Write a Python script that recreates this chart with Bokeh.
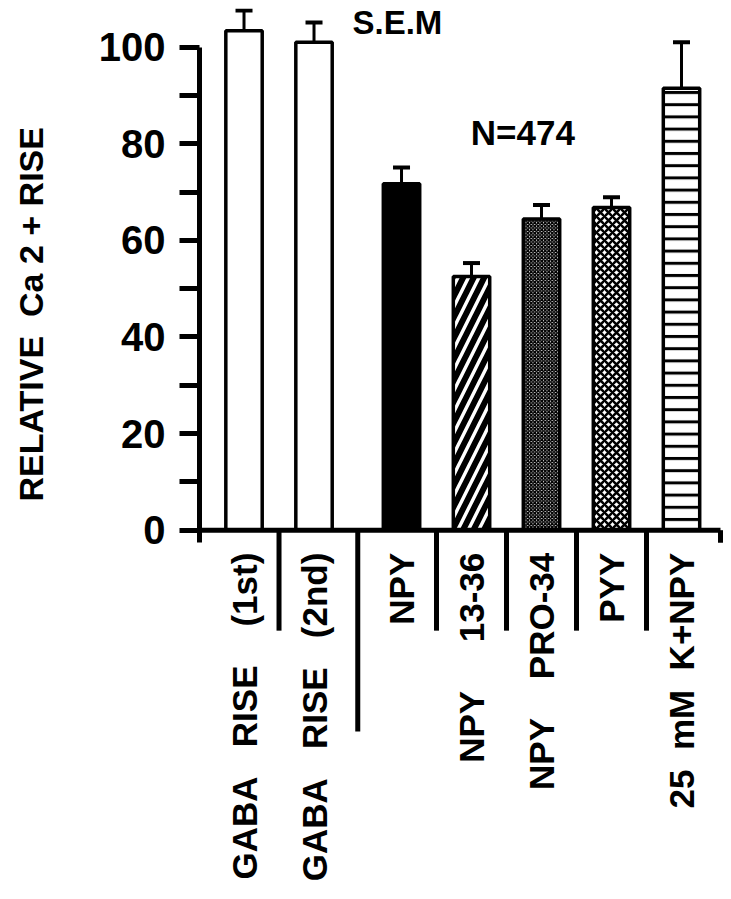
import math
import numpy as np
from bokeh.plotting import figure
from bokeh.layouts import row
from bokeh.models import Range1d, FixedTicker, ColumnDataSource, Whisker, TeeHead, Label
from bokeh.core.properties import value
from bokeh.embed import file_html
from bokeh.resources import INLINE

NB = "\u00a0"

# ---- data ----
labels = ["GABA" + NB * 3 + "RISE" + NB * 4 + "(1st)",
          "GABA" + NB * 3 + "RISE" + NB * 3 + "(2nd)",
          "NPY",
          "NPY" + NB * 5 + "13-36",
          "NPY" + NB * 4 + "PRO-34",
          "PYY",
          "25" + NB * 2 + "mM" + NB * 2 + "K+NPY"]
groups = [0, 0, 1, 1, 1, 1, 1]
means = [103.4, 101.0, 71.7, 52.5, 64.4, 66.8, 91.5]
sems = [4.2, 4.1, 3.4, 2.8, 2.9, 2.1, 9.5]
y_ticks = [0, 20, 40, 60, 80, 100]
y_minor = [10, 30, 50, 70, 90]
y_title = "RELATIVE" + NB * 2 + "Ca 2 + RISE"
note_sem = "S.E.M"
note_n = "N=474"

# ---- styles (per bar) ----
fills = ["white", "white", "black", "white", "white", "white", "white"]
hatches = [" ", " ", " ", "/", "x", "x", "-"]
hscales = [10, 10, 10, 21, 3.5, 8, 12.2]
hweights = [1, 1, 1, 6, 1.7, 2.5, 3]

GROUP_GAP = 0.25
FONT = "Liberation Sans"
Y_RANGE = Range1d(-74.8, 108.0)

pos = np.arange(len(means)) + GROUP_GAP * np.array(groups)
src = ColumnDataSource(dict(
    x=pos, top=means, upper=np.array(means) + np.array(sems), lower=means,
    label=labels, fill=fills, hatch=hatches, hscale=hscales, hweight=hweights,
))

# ---- narrow strip holding the y-axis title ----
t = figure(frame_width=60, frame_height=883, x_range=Range1d(0, 60), y_range=Y_RANGE,
           x_axis_location=None, y_axis_location=None, toolbar_location=None,
           output_backend="svg", min_border_left=0, min_border_right=0,
           min_border_top=8, min_border_bottom=0)
t.outline_line_color = None
t.xgrid.visible = False
t.ygrid.visible = False
t.text(x=[30], y=[44.7], text=[y_title], angle=math.pi / 2,
       text_align="center", text_baseline="middle",
       text_font=value(FONT), text_font_style="bold", text_font_size="34px",
       text_color="black")

# ---- main chart ----
p = figure(frame_width=524, frame_height=883,
           x_range=Range1d(pos[0] - 0.636, pos[-1] + 0.6),
           y_range=Y_RANGE,
           x_axis_location=None, toolbar_location=None,
           output_backend="svg", min_border_left=139, min_border_right=0,
           min_border_top=8, min_border_bottom=0)
p.outline_line_color = None
p.xgrid.visible = False
p.ygrid.visible = False

ax = p.yaxis[0]
ax.ticker = FixedTicker(ticks=y_ticks, minor_ticks=y_minor)
ax.bounds = (-2.6, 100)
ax.axis_line_width = 5
ax.major_tick_line_width = 5
ax.minor_tick_line_width = 5
ax.major_tick_out = 20
ax.minor_tick_out = 20
ax.major_tick_in = 0
ax.minor_tick_in = 0
ax.major_label_text_font = FONT
ax.major_label_text_font_style = "bold"
ax.major_label_text_font_size = "40px"
ax.major_label_standoff = 14
ax.major_label_text_color = "black"

# bars
p.vbar(x="x", top="top", bottom=0, width=0.52, source=src,
       fill_color="fill", line_color="black", line_width=3.5,
       hatch_pattern="hatch", hatch_color="black", hatch_scale="hscale",
       hatch_weight="hweight")

# error bars (upper only)
w = Whisker(base="x", upper="upper", lower="lower", source=src,
            dimension="height", line_width=3, line_color="black",
            upper_head=TeeHead(size=17, line_width=4, line_color="black"),
            lower_head=None)
p.add_layout(w)

# x baseline and end tick
end_x = pos[-1] + 0.557
p.segment(x0=[pos[0] - 0.636], y0=[0], x1=[end_x], y1=[0], line_width=5, line_color="black")
p.segment(x0=[end_x], y0=[0], x1=[end_x], y1=[-2.6], line_width=5, line_color="black")

# separators between category labels
mids = (pos[:-1] + pos[1:]) / 2
depth = [-41.7 if groups[i] != groups[i + 1] else -20.8 for i in range(len(pos) - 1)]
p.segment(x0=mids, y0=[0] * len(mids), x1=mids, y1=depth, line_width=5, line_color="black")

# category labels
p.text(x="x", y=-4.66, text="label", source=src, angle=math.pi / 2,
       text_align="right", text_baseline="middle",
       text_font=value(FONT), text_font_style="bold", text_font_size="35px",
       text_color="black")

p.add_layout(Label(x=pos[0] + 1.55, y=105.2, text=note_sem,
                   text_align="left", text_baseline="middle", text_color="black",
                   text_font=FONT, text_font_style="bold", text_font_size="33px"))
p.add_layout(Label(x=pos[0] + 3.24, y=82.4, text=note_n,
                   text_align="left", text_baseline="middle", text_color="black",
                   text_font=FONT, text_font_style="bold", text_font_size="35px"))

layout = row(t, p, spacing=0)
open("out.html", "w").write(file_html(layout, INLINE))
